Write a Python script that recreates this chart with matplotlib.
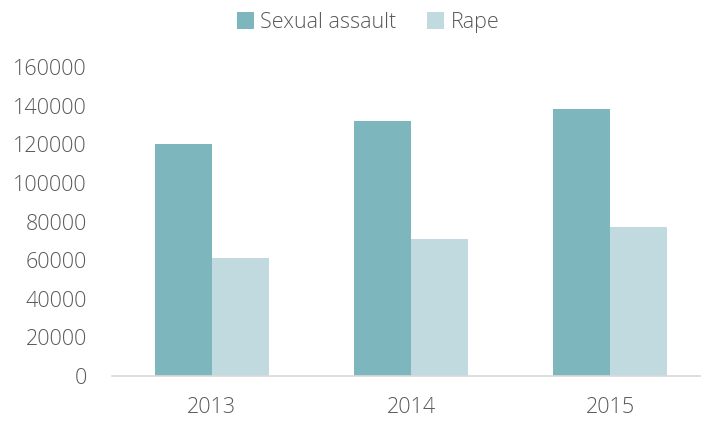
import numpy as np
import matplotlib
matplotlib.use("agg")
import matplotlib.pyplot as plt

years = ["2013", "2014", "2015"]
sexual_assault = [120000, 132000, 138000]
rape = [61000, 71000, 77000]
yticks = [0, 20000, 40000, 60000, 80000, 100000, 120000, 140000, 160000]

plt.rcParams["font.family"] = ["Open Sans", "DejaVu Sans"]
plt.rcParams["font.weight"] = "light"
txt = "#595959"

fig = plt.figure(figsize=(7.01, 4.21), dpi=100)
W, H = 701., 421.
ax = fig.add_axes([112/W, (H-376)/H, (710-112)/W, (376-67)/H])

x = np.arange(len(years))
w = 0.286
ax.bar(x - w/2, sexual_assault, w, color="#7EB6BD", label="Sexual assault")
ax.bar(x + w/2, rape, w, color="#C0DADF", label="Rape")

ax.set_xlim(-0.5, 2.5)
ax.set_ylim(0, 160000)
ax.set_yticks(yticks)
ax.set_yticklabels([str(v) for v in yticks])
ax.set_xticks(x)
ax.set_xticklabels(years)

for s in ["top", "right", "left"]:
    ax.spines[s].set_visible(False)
ax.spines["bottom"].set_color("#D9D9D9")
ax.spines["bottom"].set_linewidth(1.2)
ax.tick_params(axis="y", length=0, pad=18, labelsize=15.5, labelcolor=txt)
ax.tick_params(axis="x", length=0, pad=15, labelsize=15.5, labelcolor=txt)

fig.legend(loc="upper center", bbox_to_anchor=(368/W, 1.018), ncol=2, frameon=False,
           fontsize=15.5, labelcolor=txt, handlelength=0.8, handleheight=0.8,
           handletextpad=0.3, columnspacing=1.4)

fig.savefig("out.png", dpi=100)
